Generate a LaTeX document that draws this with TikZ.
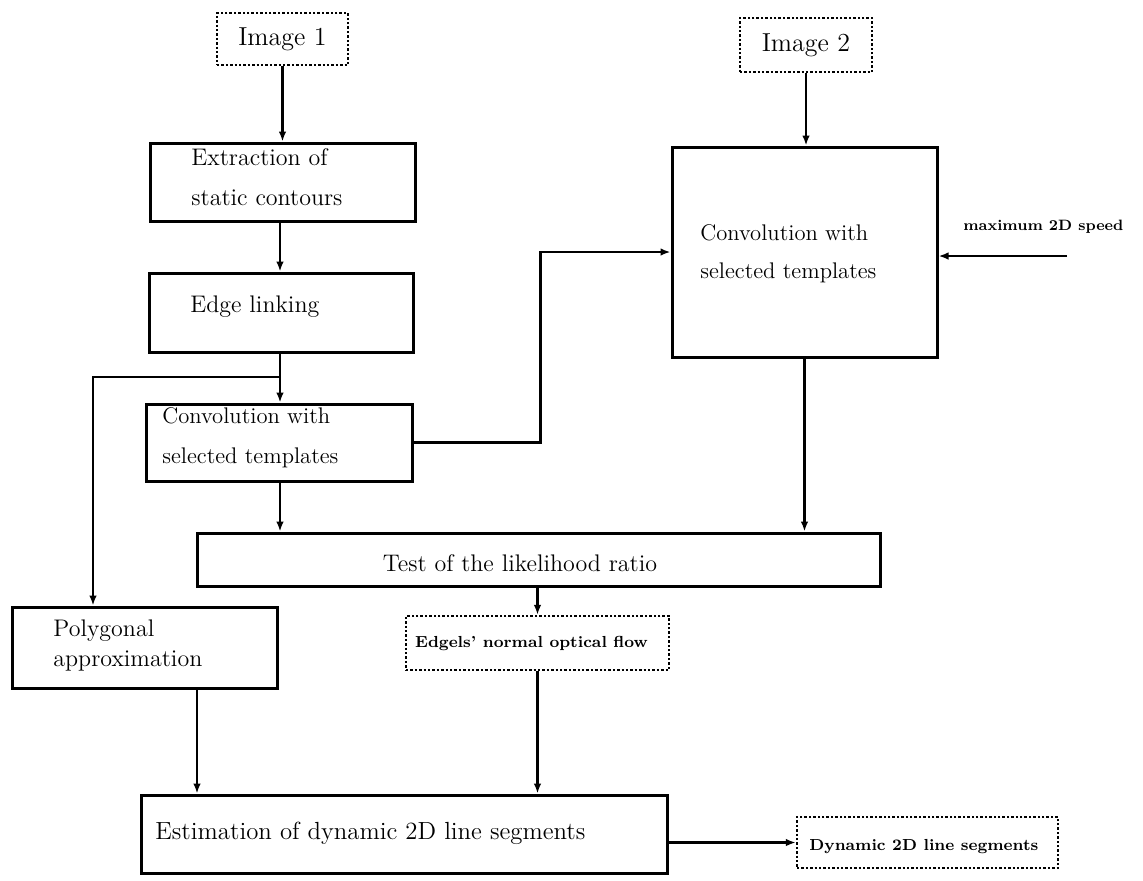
\documentclass[tikz,border=0pt]{standalone}
\usetikzlibrary{arrows.meta,calc}
\begin{document}
\begin{tikzpicture}[x=0.5pt,y=-0.5pt,
  box/.style={draw,line width=1.5pt,inner sep=0pt,minimum width=#1},
  dbox/.style={draw,densely dotted,line width=1.2pt,inner sep=0pt},
  conn/.style={line width=1.1pt,-{Latex[length=5pt,width=3.8pt]}},
  txt/.style={inner sep=0pt,font=\fontsize{12}{20}\selectfont,align=left},
  small/.style={inner sep=0pt,font=\fontsize{8}{9}\selectfont\bfseries}]
\useasboundingbox (0,0) rectangle (1143,880);
% boxes
\node[dbox,minimum width=65.5pt,minimum height=26pt,font=\fontsize{13}{15}\selectfont] (img1) at (282.5,39) {Image 1};
\node[dbox,minimum width=66pt,minimum height=27pt,font=\fontsize{13}{15}\selectfont] (img2) at (806,45) {Image 2};
\node[box=132.5pt,minimum height=39pt] (extr) at (282.5,182) {};
\node[box=132pt,minimum height=39.5pt] (edge) at (281,312.5) {};
\node[box=133pt,minimum height=38.5pt] (conv1) at (279,442.5) {};
\node[box=132.5pt,minimum height=105pt] (conv2) at (804.5,252) {};
\node[box=341.5pt,minimum height=26.5pt] (test) at (538.5,559.5) {};
\node[dbox,minimum width=131.5pt,minimum height=27pt] (edgels) at (537.5,643) {};
\node[box=132.5pt,minimum height=40.5pt] (poly) at (144.5,647.5) {};
\node[box=263pt,minimum height=39pt] (estim) at (404,834) {};
\node[dbox,minimum width=130.5pt,minimum height=25.5pt] (dyn) at (927.5,842.5) {};
% texts
\node[txt,anchor=west] (textr) at (191,177) {Extraction of\\static contours};
\node[txt,anchor=west] (tedge) at (190,307) {Edge linking};
\node[txt,anchor=west,font=\fontsize{11.3}{20}\selectfont] (tconv1) at (162,438) {Convolution with\\selected templates};
\node[txt,anchor=west,font=\fontsize{11.3}{19}\selectfont] (tconv2) at (700,254) {Convolution with\\selected templates};
\node[txt] (ttest) at (520,563) {Test of the likelihood ratio};
\node[txt,anchor=west,font=\fontsize{12}{15}\selectfont] (tpoly) at (53,645) {Polygonal\\approximation};
\node[small] (tedgels) at (531.5,643) {Edgels' normal optical flow};
\node[txt,anchor=west,font=\fontsize{12.4}{15}\selectfont] (testim) at (155,833) {Estimation of dynamic 2D line segments};
\node[small,anchor=west] (tdyn) at (809,847) {Dynamic 2D line segments};
\node[small,anchor=west,font=\fontsize{7.5}{9}\selectfont\bfseries] (tspd) at (963,227) {maximum 2D speed};
% helper coordinates
\coordinate (lx) at (280,0);
\coordinate (br) at (280,377);
\coordinate (pl) at (93,0);
\coordinate (px) at (197,0);
\coordinate (spd) at (1067,256);
% connectors
\draw[conn] (img1) -- (extr.north -| img1);
\draw[conn] (extr.south -| lx) -- (edge.north -| lx);
\draw[conn] (edge.south -| lx) -- (conv1.north -| lx);
\draw[conn] (br) -| (poly.north -| pl);
\draw[conn] (conv1.east) -- ++(127,0) |- (conv2.west);
\draw[conn] (img2) -- (conv2.north -| img2);
\draw[conn] (spd) -- (conv2.east |- spd);
\draw[conn] (conv1.south -| lx) -- (test.north -| lx);
\draw[conn] (conv2.south) -- (test.north -| conv2.south);
\draw[conn] (test.south -| edgels) -- (edgels.north);
\draw[conn] (edgels.south) -- (estim.north -| edgels);
\draw[conn] (poly.south -| px) -- (estim.north -| px);
\draw[conn] (estim.east |- dyn) -- (dyn.west);
\end{tikzpicture}
\end{document}
